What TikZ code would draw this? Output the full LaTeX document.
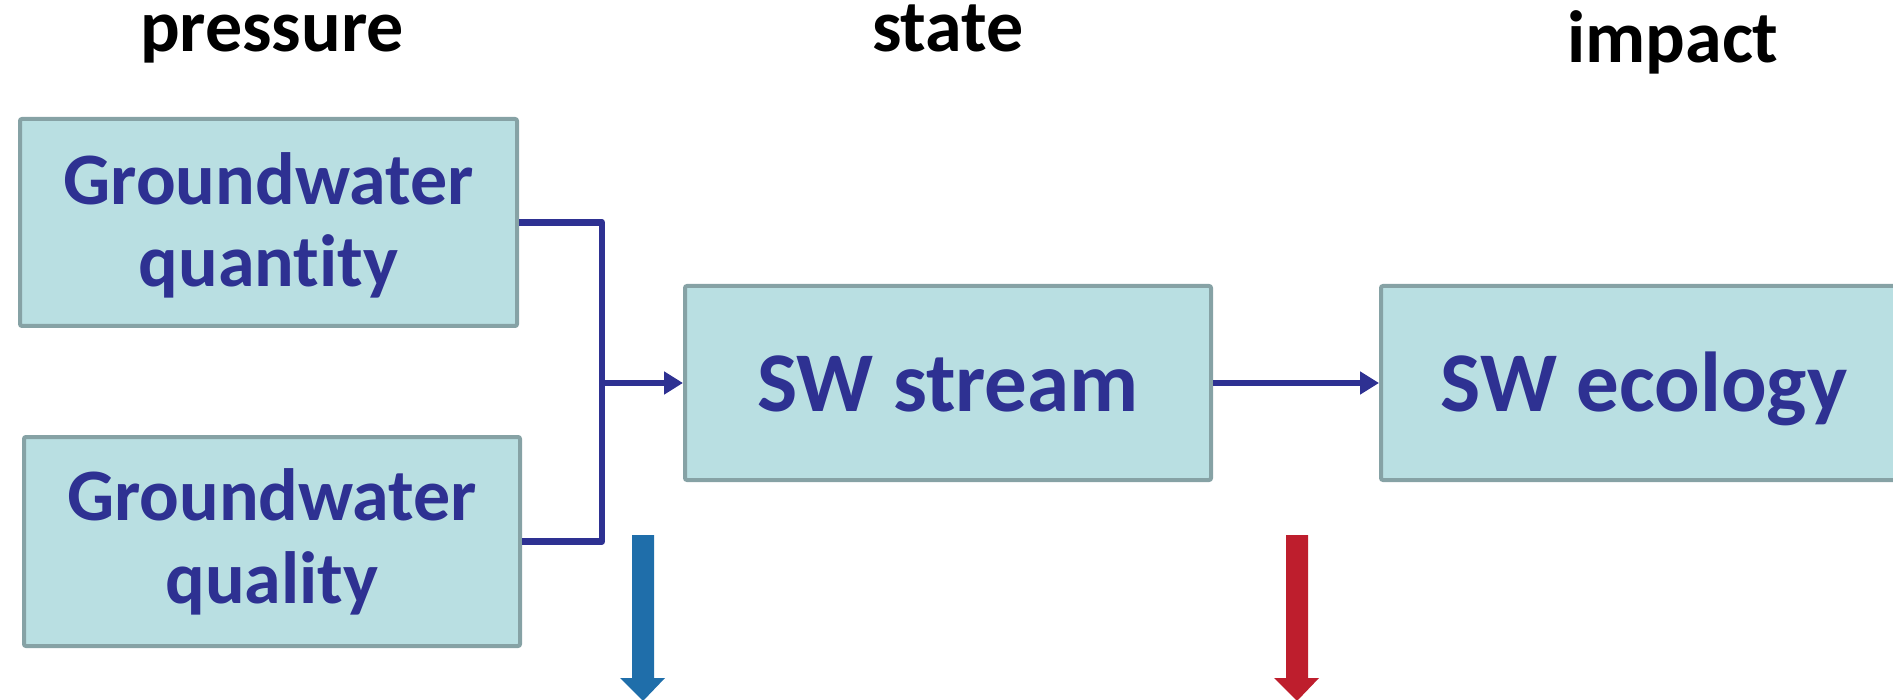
\documentclass[tikz,border=0pt]{standalone}
\usepackage{fontspec}
\setmainfont{Carlito}[Ligatures=NoCommon]
\usetikzlibrary{arrows.meta}
\definecolor{boxfill}{HTML}{B9DFE2}
\definecolor{boxline}{HTML}{86A2A5}
\definecolor{navy}{HTML}{2E3192}
\definecolor{downblue}{HTML}{1F6EAA}
\definecolor{downred}{HTML}{BE1E2D}
\tikzset{
  boxnode/.style={draw=boxline, fill=boxfill, line width=4pt, rounded corners=2pt,
    inner sep=0pt},
  boxtext/.style={anchor=base, inner sep=0pt, text=navy,
    font=\fontsize{74}{82}\selectfont\bfseries},
  bigtext/.style={boxtext, font=\fontsize{85}{95}\selectfont\bfseries},
  header/.style={anchor=base, font=\fontsize{74}{88}\selectfont\bfseries, text=black},
  link/.style={draw=navy, line width=6.5pt, line join=round},
  tip/.style={-{Triangle[length=19pt,width=22pt]}},
}
\begin{document}
\begin{tikzpicture}[x=1pt,y=-1pt]
\path[use as bounding box, clip] (0,0) rectangle (1893,700);

% column headings
\node[header] (hp) at (272,52) {pressure};
\node[header] (hs) at (948,52) {state};
\node[header] (hi) at (1673,63) {impact};

% boxes
\node[boxnode, minimum width=497pt, minimum height=207pt] (gqn) at (268.5,222.5) {};
\node[boxnode, minimum width=496pt, minimum height=209pt] (gql) at (272,541.5) {};
\node[boxnode, minimum width=526pt, minimum height=194pt] (sws) at (948,383) {};
\node[boxnode, minimum width=526pt, minimum height=194pt] (swe) at (1644,383) {};

% box labels, placed on their baselines
\node[boxtext] (gqn1) at (gqn.center |- 0,205) {Groundwater};
\node[boxtext] (gqn2) at (gqn.center |- 0,287) {quantity};
\node[boxtext] (gql1) at (gql.center |- 0,520) {Groundwater};
\node[boxtext] (gql2) at (gql.center |- 0,603) {quality};
\node[bigtext] (swst) at (sws.center |- 0,412) {SW stream};
\node[bigtext] (swec) at (swe.center |- 0,412) {SW ecology};

% connectors
\coordinate (join) at (602,383);
\draw[link] (gqn.east) -| (join);
\draw[link] (gql.east) -| (join);
\draw[link, tip] (join) -- (sws.west);
\draw[link, tip] (sws.east) -- (swe.west);

% downward block arrows
\fill[downblue] (632,535) -- (654,535) -- (654,678) -- (665,678) -- (643,701)
  -- (620,678) -- (632,678) -- cycle;
\fill[downred] (1286,535) -- (1308,535) -- (1308,678) -- (1319,678) -- (1297,701)
  -- (1274,678) -- (1286,678) -- cycle;
\end{tikzpicture}
\end{document}
